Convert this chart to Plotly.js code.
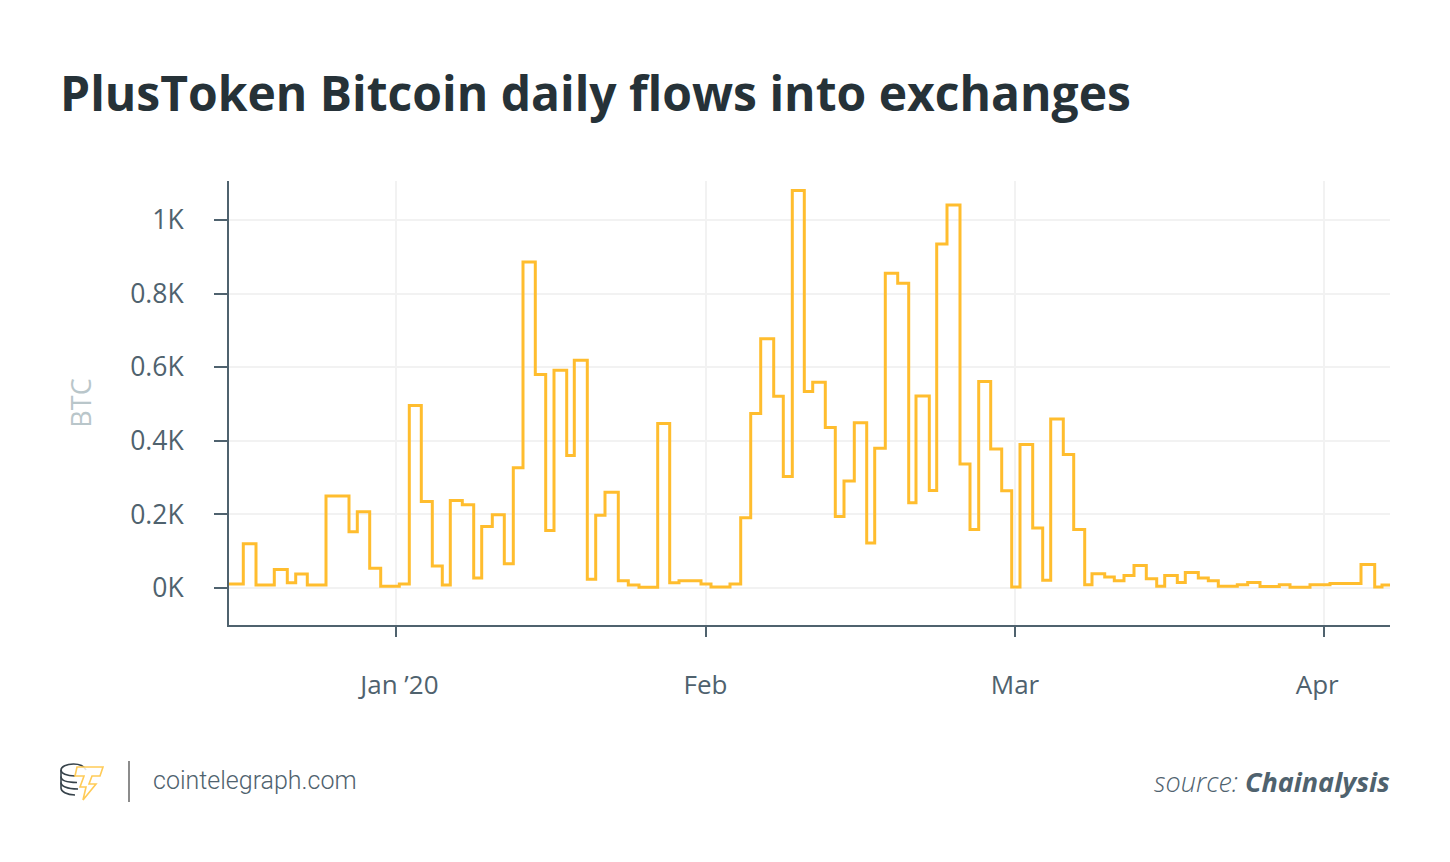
<!DOCTYPE html>
<html>
<head>
<meta charset="utf-8">
<script src="https://cdn.plot.ly/plotly-3.0.1.min.js"></script>
<style>
html,body{margin:0;padding:0;background:#fff;width:1450px;height:862px;overflow:hidden}
#chart{position:absolute;left:0;top:0;width:1450px;height:862px}
#logo{position:absolute;left:0;top:0;pointer-events:none}
</style>
</head>
<body>
<div id="chart"></div>
<svg id="logo" width="1450" height="862" fill="none">
  <g stroke="#36424a" stroke-width="1.6">
    <path d="M86 770C84 766 79 764 73.500 764C66.500 764 61 766.500 61 770V788C61 791.500 66.500 795 75 795"/>
    <path d="M61 770C61 773.500 66.500 776 75 776M61 776.500C61 780 66.500 782.500 77 782.500M61 782.500C61 786 66.500 789 78 789"/>
  </g>
  <path d="M77 767H103L100 776H92L89 784H96L83 800L86 787H80L84 776H75Z" fill="#fff" fill-opacity="0.85" stroke="#ffcb57" stroke-width="1.6" stroke-linejoin="miter"/>
  <path d="M129 761V802" stroke="#8c8c8c" stroke-width="2"/>
</svg>
<script>
// Horizontal position of each step, in chart days measured from the Jan '20 tick
var stepStart = [-16.9,-15.27,-14,-12.17,-10.87,-10.03,-8.87,-7,-4.7,-3.87,-2.63,-1.53,0.33,1.33,2.53,3.63,4.63,5.43,6.63,7.77,8.57,9.63,10.83,11.73,12.7,13.93,14.97,15.8,17.07,17.83,19.13,19.97,20.9,22.23,23.23,24.3,26.17,27.37,28.3,30.5,31.5,33.4,34.47,35.47,36.47,37.77,38.73,39.63,40.83,41.67,42.93,43.93,44.8,45.83,47.07,47.87,48.93,50.17,51.27,52,53.33,54.07,55.1,56.4,57.4,58.27,59.47,60.57,61.57,62.4,63.67,64.67,65.47,66.73,67.77,68.87,69.6,70.87,71.83,72.8,73.8,75.03,76.07,76.87,78.13,78.93,80.23,81.23,82.23,84.13,85.17,86.4,88.33,89.4,91.4,93.4,96.5,97.87,98.6,99.4];
// Daily flow in BTC
var btcFlow = [11,120,8,50,14,38,8,250,153,207,54,5,11,496,235,60,8,238,226,27,167,199,66,327,886,580,156,592,360,619,24,198,260,20,8,2,447,14,20,11,3,11,191,474,677,521,303,1080,534,559,436,194,291,449,122,380,855,828,232,522,265,935,1041,337,159,561,378,264,3,390,163,21,459,363,159,9,39,30,20,34,61,25,5,34,15,42,27,20,5,9,15,4,9,2,9,12,64,3,8,8];
var tickPos = [0,30.95,61.9,92.8];
var tickLabels = ["\u00a0Jan \u201920","Feb","Mar","Apr\u00a0\u00a0"];
var yTicks = [0,200,400,600,800,1000];
var yLabels = ["0K","0.2K","0.4K","0.6K","0.8K","1K"];

var ink = "#4f626e";
Plotly.newPlot("chart",[{
  type:"scatter",mode:"lines",x:stepStart,y:btcFlow,
  line:{shape:"hv",color:"#ffbd2e",width:3},hoverinfo:"skip"
}],{
  width:1450,height:862,
  paper_bgcolor:"#fff",plot_bgcolor:"#fff",
  margin:{l:229,r:60,t:181,b:237,pad:0},
  showlegend:false,
  font:{family:"'Open Sans',sans-serif",color:ink},
  title:{text:"<b>PlusToken Bitcoin daily flows into exchanges</b>",
    x:60/1450,xanchor:"left",xref:"container",y:1-94.5/862,yanchor:"middle",
    font:{family:"'Open Sans',sans-serif",size:48,color:"#263238"}},
  xaxis:{type:"linear",range:[-16.7,99.4],tickmode:"array",tickvals:tickPos,ticktext:tickLabels,
    showgrid:true,gridcolor:"#f2f2f2",gridwidth:2,zeroline:false,
    showline:true,linecolor:ink,linewidth:2,ticks:"outside",ticklen:10,tickwidth:2,tickcolor:ink,
    ticklabelstandoff:26,
    tickfont:{size:26,color:ink}},
  yaxis:{range:[-100.5,1106],tickmode:"array",tickvals:yTicks,ticktext:yLabels,
    showgrid:true,gridcolor:"#f2f2f2",gridwidth:2,zeroline:false,
    showline:true,linecolor:ink,linewidth:2,ticks:"outside",ticklen:13,tickwidth:2,tickcolor:ink,
    ticklabelstandoff:25,
    tickfont:{size:26.5,color:ink},
    title:{text:"BTC",standoff:31,font:{size:27,color:"#b9c6ca"}}},
  annotations:[
    {xref:"paper",yref:"paper",x:(153-229)/1161,y:-(780-625)/444,xanchor:"left",yanchor:"middle",showarrow:false,xshift:-2,
     text:"cointelegraph.com",font:{family:"Roboto,sans-serif",size:25,color:ink,weight:300}},
    {xref:"paper",yref:"paper",x:1,y:-(781.5-625)/444,xanchor:"right",yanchor:"middle",showarrow:false,xshift:2,
     text:"<i><span style=\"font-weight:300\">source: </span><b>Chainalysis</b></i>",font:{family:"'Open Sans',sans-serif",size:27,color:ink}}
  ]
},{displayModeBar:false,staticPlot:true});
</script>
</body>
</html>
